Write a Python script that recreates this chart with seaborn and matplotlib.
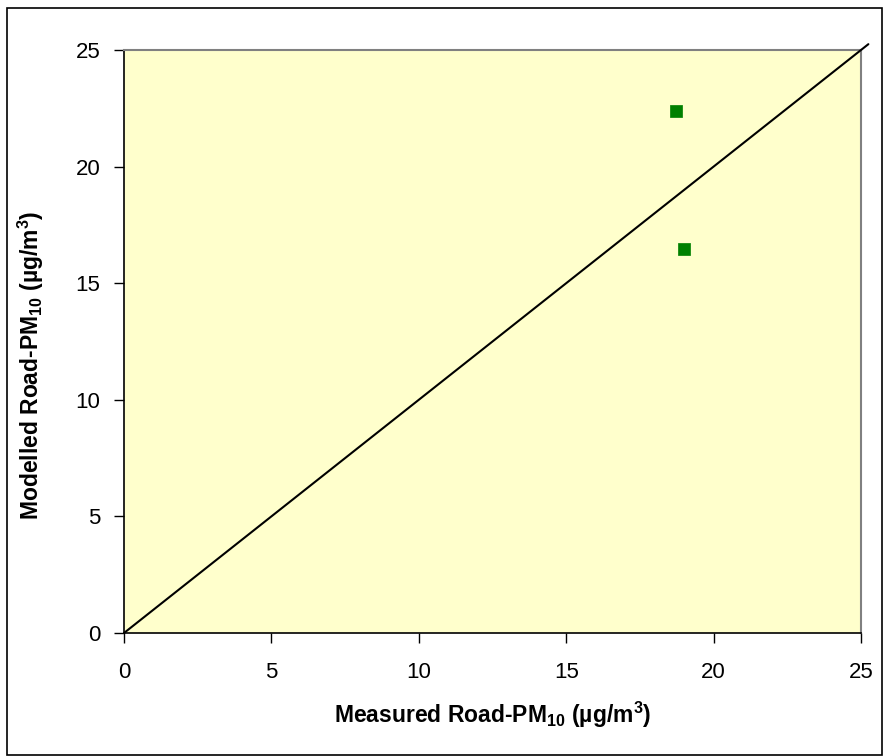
import matplotlib
matplotlib.use("Agg")
import matplotlib.pyplot as plt
import seaborn as sns
import pandas as pd
from matplotlib.patches import Rectangle

# Data
measured = [18.72, 19.0]
modelled = [22.38, 16.47]
line_x = [0, 25.25]
line_y = [0, 25.25]
ticks = [0, 5, 10, 15, 20, 25]

sns.set_style("white")
plt.rcParams['font.family'] = ['Liberation Sans', 'DejaVu Sans']
plt.rcParams['mathtext.fontset'] = 'custom'
plt.rcParams['mathtext.rm'] = 'Liberation Sans:bold'
plt.rcParams['mathtext.bf'] = 'Liberation Sans:bold'
plt.rcParams['mathtext.default'] = 'rm'
plt.rcParams['text.color'] = 'black'
plt.rcParams['axes.labelcolor'] = 'black'
plt.rcParams['xtick.color'] = 'black'
plt.rcParams['ytick.color'] = 'black'

fig = plt.figure(figsize=(8.83, 7.56), dpi=100)
ax = fig.add_axes([124/883, 1-633/756, (861-124)/883, (633-50)/756])
ax.set_facecolor('#FFFFCC')

df = pd.DataFrame({'Measured': measured, 'Modelled': modelled})
ax.plot(line_x, line_y, color='black', lw=1.5, clip_on=False, zorder=3)
sns.scatterplot(data=df, x='Measured', y='Modelled', marker='s', s=80,
                color='#008000', edgecolor='#008000', linewidth=0.5, ax=ax, zorder=4)

ax.set_xlim(0, 25)
ax.set_ylim(0, 25)
ax.set_xticks(ticks)
ax.set_yticks(ticks)
ax.tick_params(axis='both', which='major', direction='out', length=7, width=1,
               color='black', labelcolor='black', labelsize=16, bottom=True, left=True)
ax.tick_params(axis='x', pad=14)
ax.tick_params(axis='y', pad=10)

for s in ['left', 'bottom']:
    ax.spines[s].set_color('black')
    ax.spines[s].set_linewidth(1.2)
for s in ['top', 'right']:
    ax.spines[s].set_color('#808080')
    ax.spines[s].set_linewidth(1.5)
ax.grid(False)

ax.set_xlabel('Measured Road-PM$_{10}$ (µg/m$^{3}$)', fontsize=16.5, fontweight='bold', color='black')
ax.set_ylabel('Modelled Road-PM$_{10}$ (µg/m$^{3}$)', fontsize=16.5, fontweight='bold', color='black')
ax.xaxis.label.set_va('center')
ax.yaxis.label.set_va('center')
ax.xaxis.set_label_coords(0.5, (633-715)/583)
ax.yaxis.set_label_coords((31-124)/737, 0.46)

fig.patches.append(Rectangle((7/883, 1/756), 875/883, 747/756, transform=fig.transFigure,
                             fill=False, ec='black', lw=1.2))

fig.savefig('out.png', dpi=100)
